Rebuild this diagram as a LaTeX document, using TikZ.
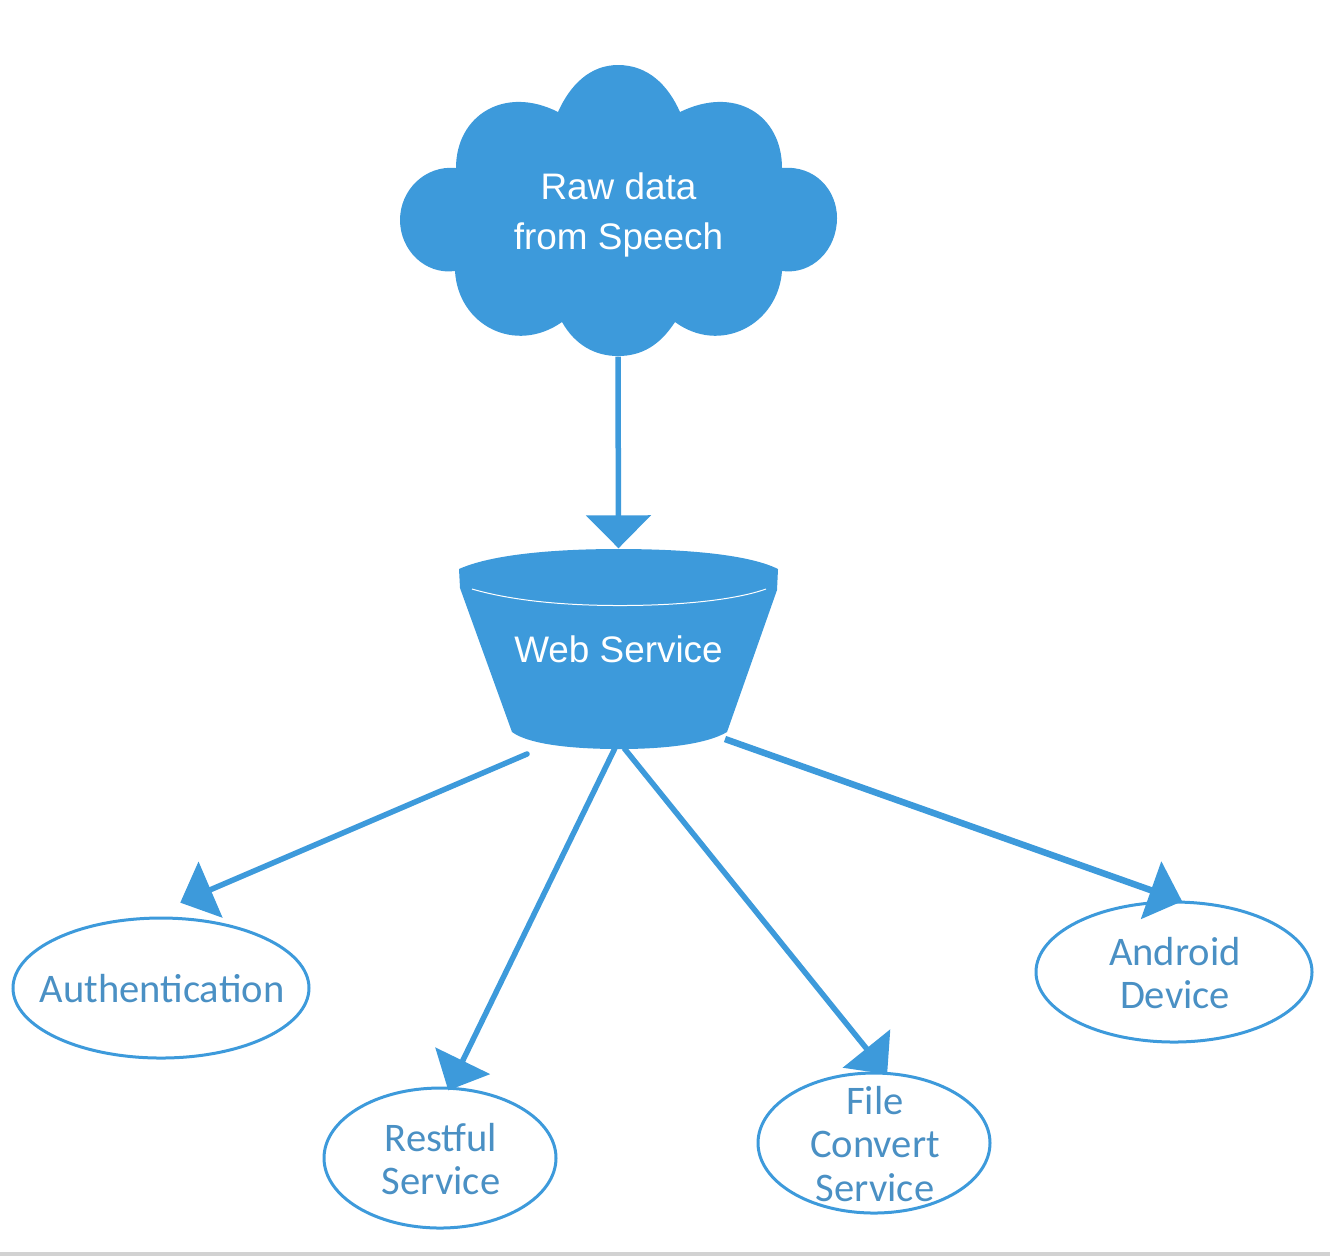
\documentclass[tikz,border=0pt]{standalone}
\usepackage{fontspec}
\setmainfont{Liberation Sans}
\newfontfamily\servicefont{Carlito}
\usetikzlibrary{shapes.geometric, arrows.meta}
\definecolor{cloudblue}{RGB}{61,154,219}
\definecolor{textblue}{RGB}{74,144,196}
\tikzset{
	link/.style={draw=cloudblue, line width=0.55mm, -{Triangle[length=3.3mm,width=6mm]}},
	area/.style={inner sep=0pt, text=white, align=center, font=\fontsize{10.5}{14.2}\selectfont},
	service/.style={ellipse, draw=cloudblue, line width=0.3mm, inner sep=0pt, minimum height=14mm},
	servicetext/.style={inner sep=0pt, xshift=0.1mm, yshift=-0.1mm, text=textblue, align=center, font=\servicefont\fontsize{11.55}{12.5}\selectfont}
}
\begin{document}
\begin{tikzpicture}[x=0.1mm, y=-0.1mm]
				\useasboundingbox (0,0) rectangle (1330,1256);
				\fill[gray!35] (0,1252) rectangle (1330,1256);
				% Cloud
				\fill[cloudblue] (558,112) .. controls (570,85) and (590,65) .. (618,65)
					.. controls (648,65) and (668,85) .. (680,112)
					.. controls (735,85) and (782,115) .. (782,168)
					.. controls (815,165) and (837,190) .. (837,218)
					.. controls (837,250) and (812,275) .. (782,271)
					.. controls (778,325) and (720,355) .. (675,322)
					.. controls (660,345) and (642,356) .. (618,356)
					.. controls (595,356) and (575,345) .. (562,322)
					.. controls (515,355) and (458,325) .. (455,271)
					.. controls (425,275) and (400,250) .. (400,220)
					.. controls (400,190) and (425,165) .. (456,168)
					.. controls (456,115) and (505,85) .. (558,112) -- cycle;
				\node[area, minimum width=43.6mm, minimum height=29.1mm] (cloud) at (618,210.5) {};
				\node[area] (cloudtext) at (618.5,215) {Raw data\\from Speech};
				% Bucket
				\fill[cloudblue] (459,569) .. controls (490,555) and (550,549) .. (618,549)
					.. controls (690,549) and (750,555) .. (778,569)
					-- (777,590) -- (727,732)
					.. controls (705,745) and (660,749) .. (620,749)
					.. controls (575,749) and (530,745) .. (512,732)
					-- (460,588) -- cycle;
				\draw[white, line width=0.1mm] (472,589) .. controls (510,600) and (560,605.5) .. (620,605.5)
					.. controls (680,605.5) and (735,600) .. (766,589);
				\node[area, minimum width=31.9mm, minimum height=20mm] (web) at (618.5,649) {Web Service};
				% Services
				\node[service, minimum width=29.6mm] (auth) at (161,988) {};
				\node[servicetext] (authtext) at (auth) {Authentication};
				\node[service, minimum width=23.2mm] (rest) at (440,1158) {};
				\node[servicetext] (resttext) at (rest) {Restful\\Service};
				\node[service, minimum width=23.2mm] (file) at (874,1143) {};
				\node[servicetext] (filetext) at (file) {File\\Convert\\Service};
				\node[service, minimum width=27.6mm] (android) at (1174,972) {};
				\node[servicetext] (androidtext) at (android) {Android\\Device};
				% Starts of the lower arrows
				\coordinate (webauth) at (527,754);
				\coordinate (webrest) at (615,748);
				\coordinate (webfile) at (624,748);
				\coordinate (webandroid) at (725,739);
				% Arrows
				\draw[link, -{Triangle[length=3.3mm,width=6.4mm]}] (cloud.south) -- (web.north);
				\draw[link, line cap=round, shorten >=3.6mm] (webauth) -- (auth.101);
				\draw[link, shorten >=-0.4mm] (webrest) -- (rest.82);
				\draw[link, shorten >=-0.3mm] (webfile) -- (file.81);
				\draw[link, line width=0.65mm, shorten >=-0.2mm] (webandroid) -- (android.85);
\end{tikzpicture}
\end{document}
